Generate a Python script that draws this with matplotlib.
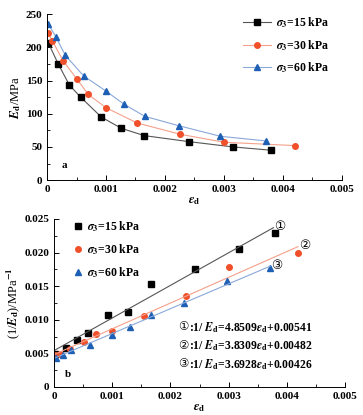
import matplotlib
matplotlib.use("Agg")
import matplotlib.pyplot as plt
import numpy as np
from matplotlib.ticker import MultipleLocator

plt.rcParams['font.family'] = ['Liberation Serif', 'DejaVu Sans']
plt.rcParams['mathtext.fontset'] = 'stix'
plt.rcParams['font.weight'] = 'bold'

labels = [r'$\sigma_3$=15 kPa', r'$\sigma_3$=30 kPa', r'$\sigma_3$=60 kPa']
colors = ['black', '#f0502a', '#1d5fb4']
line_colors = ['#555555', '#f5a08a', '#8aa8d8']
markers = ['s', 'o', '^']

# panel a: Ed vs eps_d
eps_a = [
    [0.00002, 0.00019, 0.00038, 0.00057, 0.00092, 0.00126, 0.00165, 0.0024, 0.00315, 0.0038],
    [0.00002, 0.00009, 0.00027, 0.0005, 0.0007, 0.001, 0.00153, 0.00226, 0.003, 0.0042],
    [0.00002, 0.00015, 0.00031, 0.00062, 0.001, 0.00131, 0.00166, 0.00223, 0.00294, 0.00371],
]
Ed = [
    [207, 175, 143, 125, 95, 78, 67, 58, 50, 45],
    [221, 210, 180, 153, 129, 109, 86, 69, 57, 52],
    [235, 216, 188, 157, 134, 114, 96, 82, 66, 59],
]

# panel b: 1/Ed vs eps_d
eps_b = [
    [0.00002, 0.0002, 0.0004, 0.00059, 0.00092, 0.00127, 0.00166, 0.00242, 0.00317, 0.0038],
    [0.00002, 0.0001, 0.00027, 0.00052, 0.00072, 0.001, 0.00154, 0.00227, 0.003, 0.0042],
    [0.00003, 0.00015, 0.0003, 0.00062, 0.001, 0.00131, 0.00167, 0.00224, 0.00297, 0.00371],
]
inv_Ed = [
    [0.00485, 0.00574, 0.00703, 0.00802, 0.01064, 0.01109, 0.01525, 0.01752, 0.02054, 0.02287],
    [0.00475, 0.00495, 0.0056, 0.00663, 0.00782, 0.00827, 0.01054, 0.01347, 0.01782, 0.01995],
    [0.0043, 0.00475, 0.00545, 0.00624, 0.00772, 0.00896, 0.01064, 0.01252, 0.0157, 0.01767],
]
slopes = [4.8509, 3.8309, 3.6928]
intercepts = [0.00541, 0.00482, 0.00426]
fit_end = [0.00377, 0.00419, 0.00371]
circ = ['①', '②', '③']
eq_text = [r':1/ $E_{\rm d}$=4.8509$\varepsilon_{\rm d}$+0.00541',
           r':1/ $E_{\rm d}$=3.8309$\varepsilon_{\rm d}$+0.00482',
           r':1/ $E_{\rm d}$=3.6928$\varepsilon_{\rm d}$+0.00426']
xtick_labels = ['0', '0.001', '0.002', '0.003', '0.004', '0.005']

fig = plt.figure(figsize=(3.63, 4.15), dpi=100)
ax1 = fig.add_axes([0.1295, 0.566, 0.8125, 0.40])
ax2 = fig.add_axes([0.1488, 0.0675, 0.8017, 0.405])

for ax in (ax1, ax2):
    ax.spines['top'].set_visible(False)
    ax.spines['right'].set_visible(False)
    ax.spines['left'].set_linewidth(0.7)
    ax.spines['bottom'].set_linewidth(0.7)
    ax.tick_params(direction='in', labelsize=8, width=0.7, length=3.5)
    ax.tick_params(which='minor', direction='in', width=0.6, length=2)
    ax.set_xlim(0, 0.005)
    ax.set_xticks(np.arange(0, 0.0051, 0.001))
    ax.set_xticklabels(xtick_labels)
    ax.xaxis.set_minor_locator(MultipleLocator(0.0005))
    ax.set_xlabel(r'$\varepsilon_{\rm d}$', fontsize=9, labelpad=1)

for i in range(3):
    ax1.plot(eps_a[i], Ed[i], color=line_colors[i], lw=0.8, marker=markers[i],
             mfc=colors[i], mec=colors[i], ms=4, label=labels[i])
ax1.set_ylim(0, 250)
ax1.yaxis.set_major_locator(MultipleLocator(50))
ax1.yaxis.set_minor_locator(MultipleLocator(25))
ax1.set_ylabel(r'$E_{\rm d}$/MPa', fontsize=9, labelpad=2)
ax1.legend(loc='upper right', bbox_to_anchor=(0.995, 1.055), frameon=False, fontsize=8.5,
           handlelength=2.3, labelspacing=0.65, handletextpad=0.5)
ax1.text(0.00025, 18, 'a', fontsize=8)

for i in range(3):
    ax2.plot(eps_b[i], inv_Ed[i], ls='none', marker=markers[i], mfc=colors[i],
             mec=colors[i], ms=4, label=labels[i])
    xf = np.array([0, fit_end[i]])
    ax2.plot(xf, slopes[i] * xf + intercepts[i], color=line_colors[i], lw=0.8)
    ax2.text(fit_end[i] + 0.00002, slopes[i] * fit_end[i] + intercepts[i] + 0.0001,
             circ[i], fontsize=9, va='center', ha='left', fontweight='normal')
ax2.set_ylim(0, 0.025)
ax2.set_yticks(np.arange(0, 0.0251, 0.005))
ax2.set_yticklabels(['0', '0.005', '0.010', '0.015', '0.020', '0.025'])
ax2.yaxis.set_minor_locator(MultipleLocator(0.0025))
ax2.set_ylabel(r'(1/$E_{\rm d}$)/MPa$^{-1}$', fontsize=9, labelpad=2)
ax2.legend(loc='upper left', bbox_to_anchor=(0.035, 1.062), frameon=False, fontsize=8.5,
           handlelength=0.6, labelspacing=0.7, handletextpad=0.4)
for k in range(3):
    y = 0.0089 - 0.00275 * k
    ax2.text(0.00213, y, circ[k], fontsize=8.3, va='center', fontweight='normal')
    ax2.text(0.00232, y, eq_text[k], fontsize=8.4, va='center')
ax2.text(0.00019, 0.0015, 'b', fontsize=8)

fig.savefig('out.png', dpi=100)
